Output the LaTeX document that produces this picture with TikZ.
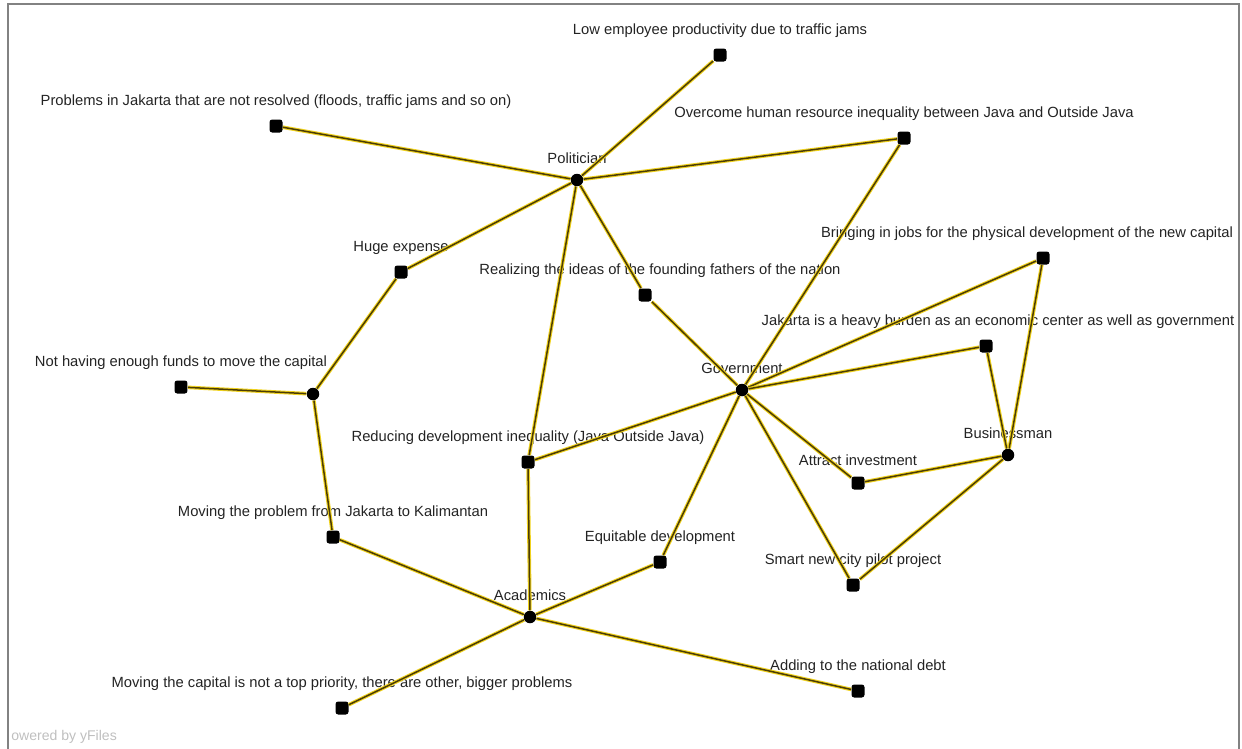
\documentclass[tikz,border=0pt]{standalone}
\usepackage{fontspec}
\setmainfont{Liberation Sans}
\usetikzlibrary{shapes.geometric}
\definecolor{linkyellow}{RGB}{240,210,30}
\definecolor{linkdark}{RGB}{75,60,5}
\definecolor{tagtext}{RGB}{35,35,35}
\definecolor{framegray}{RGB}{130,130,130}
\tikzstyle{issue} = [rectangle, fill=black, minimum size=0.26cm, inner sep=0pt, rounded corners=1.5pt]
\tikzstyle{actor} = [circle, fill=black, minimum size=0.25cm, inner sep=0pt]
\tikzstyle{tag} = [font=\fontsize{8.4}{10}\selectfont, text=tagtext, inner sep=1pt]
\tikzstyle{line} = [draw=linkyellow, double=linkdark, double distance=0.85pt, line width=0.6pt]

\begin{document}
\begin{tikzpicture}[x=0.02cm, y=-0.02cm, every label/.style={tag}, label distance=0.16cm]
    \useasboundingbox (0,0) rectangle (1242,748);
    \begin{scope}
        \clip (0,0) rectangle (1242,748);
        \draw [framegray, line width=0.05cm] (8,4) rectangle (1239,770);
    \end{scope}
    % actors
    \node [actor, label=above:Politician] at (577,180) (pol) {};
    \node [actor, label=above:Government] at (742,390) (gov) {};
    \node [actor, label=above:Businessman] at (1008,455) (bus) {};
    \node [actor, label=above:Academics] at (530,617) (aca) {};
    \node [actor] at (313,394) (hub) {};
    % issues
    \node [issue, label=above:Low employee productivity due to traffic jams] at (720,55) (prod) {};
    \node [issue, label=above:{Problems in Jakarta that are not resolved (floods, traffic jams and so on)}] at (276,126) (unres) {};
    \node [issue, label=above:Overcome human resource inequality between Java and Outside Java] at (904,138) (hrineq) {};
    \node [issue, label=above:Huge expense] at (401,272) (expense) {};
    \node [issue, label={[xshift=0.3cm]above:Realizing the ideas of the founding fathers of the nation}] at (645,295) (ideas) {};
    \node [issue, label={[xshift=-0.32cm]above:Bringing in jobs for the physical development of the new capital}] at (1043,258) (jobs) {};
    \node [issue, label={[xshift=0.24cm]above:Jakarta is a heavy burden as an economic center as well as government}] at (986,346) (burden) {};
    \node [issue, label=above:Not having enough funds to move the capital] at (181,387) (funds) {};
    \node [issue, label=above:{Reducing development inequality (Java Outside Java)}] at (528,462) (devineq) {};
    \node [issue, label=above:Attract investment] at (858,483) (invest) {};
    \node [issue, label=above:Moving the problem from Jakarta to Kalimantan] at (333,537) (moveprob) {};
    \node [issue, label=above:Equitable development] at (660,562) (equit) {};
    \node [issue, label=above:Smart new city pilot project] at (853,585) (smart) {};
    \node [issue, label=above:{Moving the capital is not a top priority, there are other, bigger problems}] at (342,708) (priority) {};
    \node [issue, label=above:Adding to the national debt] at (858,691) (debt) {};
    % links
    \path [line] (pol) -- (prod);
    \path [line] (pol) -- (unres);
    \path [line] (pol) -- (hrineq);
    \path [line] (pol) -- (expense);
    \path [line] (pol) -- (ideas);
    \path [line] (pol) -- (devineq);
    \path [line] (hrineq) -- (gov);
    \path [line] (ideas) -- (gov);
    \path [line] (gov) -- (jobs);
    \path [line] (gov) -- (burden);
    \path [line] (gov) -- (devineq);
    \path [line] (gov) -- (invest);
    \path [line] (gov) -- (equit);
    \path [line] (gov) -- (smart);
    \path [line] (jobs) -- (bus);
    \path [line] (burden) -- (bus);
    \path [line] (bus) -- (invest);
    \path [line] (bus) -- (smart);
    \path [line] (hub) -- (funds);
    \path [line] (hub) -- (expense);
    \path [line] (hub) -- (moveprob);
    \path [line] (aca) -- (devineq);
    \path [line] (aca) -- (moveprob);
    \path [line] (aca) -- (equit);
    \path [line] (aca) -- (priority);
    \path [line] (aca) -- (debt);
    % watermark
    \node [font=\fontsize{8}{9}\selectfont, text=black!25, anchor=west, inner sep=0pt] at (11,737) (yfiles) {owered by yFiles};
\end{tikzpicture}
\end{document}
